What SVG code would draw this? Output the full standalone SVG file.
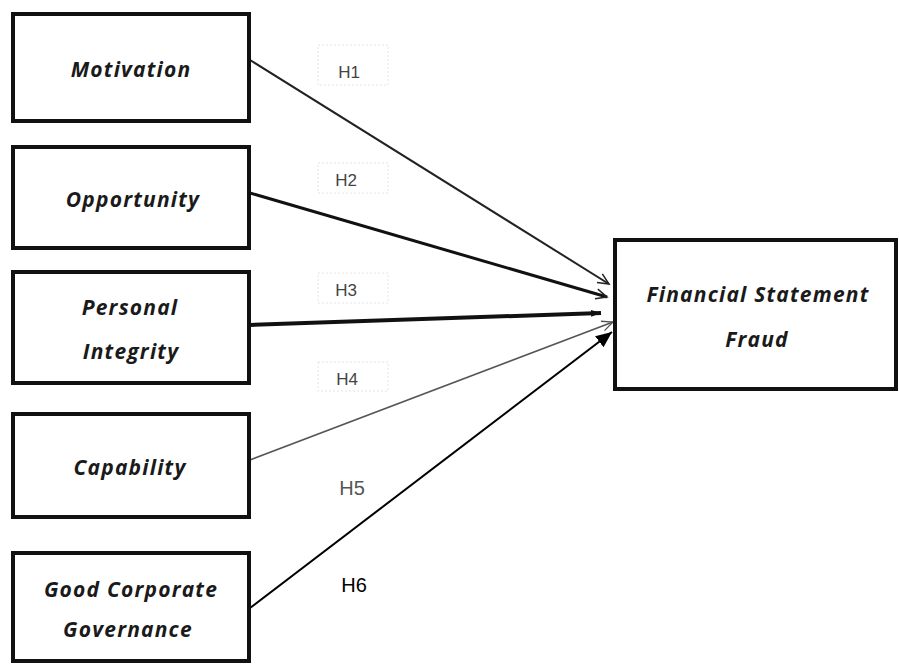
<svg xmlns="http://www.w3.org/2000/svg" width="899" height="664" viewBox="0 0 899 664">
<style>
.box{fill:#fff;stroke:#111;stroke-width:4}
.nt{font-family:"Open Sans","DejaVu Sans",sans-serif;font-style:italic;font-weight:700;font-size:21px;letter-spacing:1.2px;fill:#1a1a1a;text-anchor:middle}
.lb{font-family:"Liberation Sans",Arial,sans-serif;font-size:17px;fill:#444;text-anchor:middle}
.lbx{fill:none;stroke:#e4e4e4;stroke-width:1;stroke-dasharray:2 2}
</style>
<defs>
<marker id="open" markerWidth="14" markerHeight="14" refX="12" refY="6" orient="auto" markerUnits="userSpaceOnUse">
<path d="M1,1 L12,6 L1,11" fill="none" stroke="#222" stroke-width="1.5"/>
</marker>
<marker id="opengray" markerWidth="14" markerHeight="14" refX="12" refY="6" orient="auto" markerUnits="userSpaceOnUse">
<path d="M1,1 L12,6 L1,11" fill="none" stroke="#555" stroke-width="1.3"/>
</marker>
<marker id="small" markerWidth="12" markerHeight="10" refX="10" refY="5" orient="auto" markerUnits="userSpaceOnUse">
<path d="M0,1.5 L10,5 L0,8.5 Z" fill="#111"/>
</marker>
<marker id="solid" markerWidth="18" markerHeight="14" refX="16" refY="7" orient="auto" markerUnits="userSpaceOnUse">
<path d="M0,0 L16,7 L0,14 Z" fill="#000"/>
</marker>
</defs>
<g id="connectors">
<line x1="250" y1="60" x2="609" y2="284" stroke="#222" stroke-width="2" marker-end="url(#open)"/>
<line x1="250" y1="193" x2="607" y2="297" stroke="#111" stroke-width="3" marker-end="url(#open)"/>
<line x1="250" y1="325" x2="601" y2="313" stroke="#111" stroke-width="4" marker-end="url(#small)"/>
<line x1="250" y1="460" x2="613" y2="322" stroke="#555" stroke-width="1.6" marker-end="url(#opengray)"/>
<line x1="250" y1="608" x2="612" y2="332" stroke="#000" stroke-width="2" marker-end="url(#solid)"/>
</g>
<g id="labels">
<rect class="lbx" x="318" y="45" width="70" height="40"/>
<text class="lb" x="349" y="78">H1</text>
<rect class="lbx" x="318" y="163" width="70" height="30"/>
<text class="lb" x="346" y="186">H2</text>
<rect class="lbx" x="318" y="273" width="70" height="30"/>
<text class="lb" x="346" y="296">H3</text>
<rect class="lbx" x="318" y="362" width="70" height="29"/>
<text class="lb" x="347" y="385">H4</text>
<text class="lb" x="352" y="495" style="font-size:20px;fill:#555">H5</text>
<text class="lb" x="354" y="592" style="font-size:20px;fill:#000">H6</text>
</g>
<g id="motivation">
<rect class="box" x="13" y="14" width="236" height="107"/>
<text class="nt" x="131" y="77">Motivation</text>
</g>
<g id="opportunity">
<rect class="box" x="13" y="147" width="236" height="101"/>
<text class="nt" x="133" y="207">Opportunity</text>
</g>
<g id="personal-integrity">
<rect class="box" x="13" y="272" width="236" height="111"/>
<text class="nt" x="130" y="315">Personal</text>
<text class="nt" x="131" y="359">Integrity</text>
</g>
<g id="capability">
<rect class="box" x="13" y="414" width="236" height="103"/>
<text class="nt" x="130" y="475">Capability</text>
</g>
<g id="good-corporate-governance">
<rect class="box" x="13" y="553" width="236" height="108"/>
<text class="nt" x="131" y="597">Good Corporate</text>
<text class="nt" x="128" y="637">Governance</text>
</g>
<g id="financial-statement-fraud">
<rect class="box" x="615" y="240" width="281" height="149"/>
<text class="nt" x="758" y="302">Financial Statement</text>
<text class="nt" x="757" y="347">Fraud</text>
</g>
</svg>
